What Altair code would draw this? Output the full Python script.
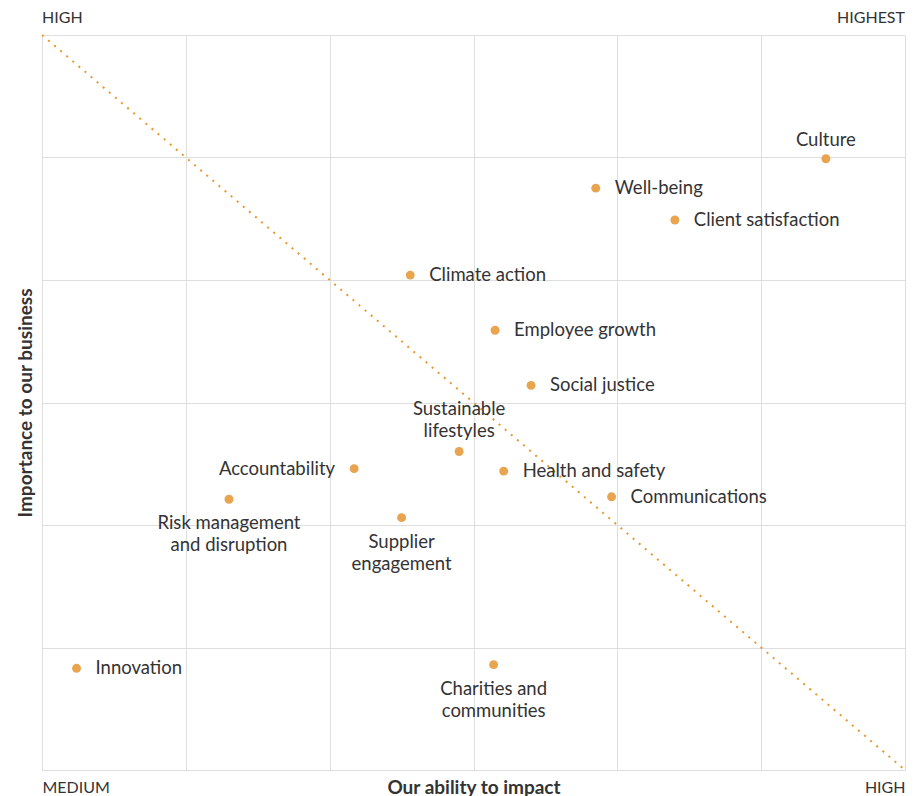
import altair as alt
import pandas as pd

# Topics: ability to impact (x, 0-6) vs importance to business (y, 0-6)
names = ["Culture", "Well-being", "Client satisfaction", "Climate action",
         "Employee growth", "Social justice", "Sustainable\nlifestyles",
         "Health and safety", "Accountability", "Communications",
         "Risk management\nand disruption", "Supplier\nengagement",
         "Innovation", "Charities and\ncommunities"]
impact = [5.45, 3.85, 4.40, 2.56, 3.15, 3.40, 2.90, 3.21, 2.17, 3.96, 1.30, 2.50, 0.24, 3.14]
importance = [4.99, 4.75, 4.49, 4.04, 3.59, 3.14, 2.60, 2.44, 2.46, 2.23, 2.21, 2.06, 0.83, 0.86]
label_side = ["above", "right", "right", "right", "right", "right", "above",
              "right", "left", "right", "below", "below", "right", "below"]

grid_values = [0, 1, 2, 3, 4, 5, 6]
diag_x = [0, 6]
diag_y = [6, 0]
top_left_label = "HIGH"
top_right_label = "HIGHEST"
x_low_label = "MEDIUM"
x_high_label = "HIGH"

df = pd.DataFrame({"name": names, "impact": impact, "importance": importance, "side": label_side})
diag = pd.DataFrame({"impact": diag_x, "importance": diag_y})
corners = pd.DataFrame({"impact": [0, 6], "importance": [6, 6], "text": [top_left_label, top_right_label]})

FONT = "Lato"
TXT = "#333333"
DOT = "#e8a44f"
LINE = "#e8962e"
LBL_SIZE = 18.5
TITLE_SIZE = 19
CORNER_SIZE = 16

xscale = alt.Scale(domain=[0, 6], nice=False, zero=False)
yscale = alt.Scale(domain=[0, 6], nice=False, zero=False)

x_enc = alt.X("impact:Q", scale=xscale,
              axis=alt.Axis(title="Our ability to impact", values=grid_values,
                            labelExpr=f"datum.value == 0 ? '{x_low_label}' : datum.value == 6 ? '{x_high_label}' : ''",
                            labelFlush=True, labelBaseline="middle", labelPadding=17,
                            ticks=False, tickSize=0, domain=False,
                            labelFont=FONT, labelFontSize=CORNER_SIZE, labelColor=TXT,
                            titleFont=FONT, titleFontSize=TITLE_SIZE, titleFontWeight="bold", titleColor=TXT,
                            titleY=17, titleBaseline="middle", titlePadding=0,
                            grid=True, gridColor="#dedede"))
y_enc = alt.Y("importance:Q", scale=yscale,
              axis=alt.Axis(title="Importance to our business", values=grid_values,
                            labels=False, ticks=False, tickSize=0, domain=True, domainColor="#dedede",
                            titleFont=FONT, titleFontSize=TITLE_SIZE, titleFontWeight="bold", titleColor=TXT,
                            titleX=-17, titleY=367.5, titleBaseline="middle", titleAlign="center",
                            titleAngle=270,
                            grid=True, gridColor="#dedede"))

base = alt.Chart(df).encode(x=x_enc, y=y_enc)

diag_line = alt.Chart(diag).mark_line(color=LINE, strokeWidth=2, strokeDash=[2, 6], clip=False).encode(
    x=alt.X("impact:Q", scale=xscale), y=alt.Y("importance:Q", scale=yscale))

points = base.mark_circle(size=80, color=DOT, opacity=1)

txt_kw = dict(font=FONT, fontSize=LBL_SIZE, color=TXT, lineBreak="\n", lineHeight=22)
multi = "indexof(datum.name, '\\n') >= 0"
right_lbl = base.mark_text(align="left", baseline="middle", dx=19, **txt_kw).encode(text="name:N").transform_filter(
    alt.datum.side == "right")
left_lbl = base.mark_text(align="right", baseline="middle", dx=-19, **txt_kw).encode(text="name:N").transform_filter(
    alt.datum.side == "left")
above_one = base.mark_text(align="center", baseline="bottom", dy=-9, **txt_kw).encode(text="name:N").transform_filter(
    alt.datum.side == "above").transform_filter("!(" + multi + ")")
above_multi = base.mark_text(align="center", baseline="bottom", dy=-33, **txt_kw).encode(text="name:N").transform_filter(
    alt.datum.side == "above").transform_filter(multi)
below_lbl = base.mark_text(align="center", baseline="top", dy=15, **txt_kw).encode(text="name:N").transform_filter(
    alt.datum.side == "below")

corner_base = alt.Chart(corners).encode(x=alt.X("impact:Q", scale=xscale), y=alt.Y("importance:Q", scale=yscale),
                                        text="text:N")
corner_left = corner_base.mark_text(align="left", baseline="middle", dy=-17, font=FONT, fontSize=CORNER_SIZE,
                                    color=TXT).transform_filter(alt.datum.impact == 0)
corner_right = corner_base.mark_text(align="right", baseline="middle", dy=-17, font=FONT, fontSize=CORNER_SIZE,
                                     color=TXT).transform_filter(alt.datum.impact == 6)

chart = alt.layer(points, diag_line, right_lbl, left_lbl, above_one, above_multi, below_lbl,
                  corner_left, corner_right).properties(
    width=863, height=735,
    autosize=alt.AutoSizeParams(type="none"),
    padding={"left": 34, "top": 27, "right": 6, "bottom": 30},
).configure_view(stroke=None)

chart.save("out.html", embed_options={"renderer": "svg", "actions": False})
